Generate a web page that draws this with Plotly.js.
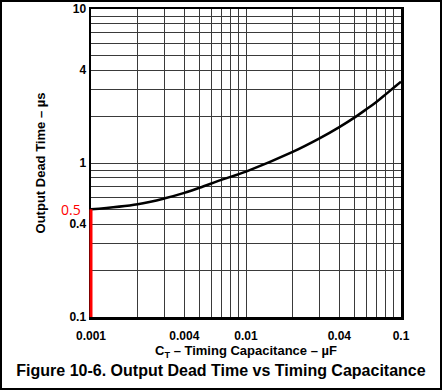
<!DOCTYPE html>
<html><head><meta charset="utf-8">
<script src="https://cdn.plot.ly/plotly-3.0.1.min.js"></script>
<style>html,body{margin:0;padding:0;background:#fff}#wrap{position:relative;width:442px;height:390px}#chart{width:442px;height:390px}#frame{position:absolute;left:0;top:0;width:442px;height:390px;box-sizing:border-box;border:2px solid #000;pointer-events:none}</style>
</head><body>
<div id="wrap"><div id="chart"></div><div id="frame"></div></div>
<script>
// Curve
const capacitance = [0.001,0.002,0.003,0.004,0.005,0.007,0.01,0.02,0.03,0.04,0.05,0.06,0.07,0.08,0.09,0.1];
const deadTime    = [0.5,0.54,0.59,0.64,0.69,0.78,0.88,1.18,1.45,1.71,1.97,2.24,2.51,2.8,3.09,3.37];
// Marked point
const markX = [0.001, 0.001];
const markY = [0.1, 0.5];
const markLabel = '0.5';
// Grid / tick labels
const xTicks = [0.001,0.004,0.01,0.04,0.1];
const xTickText = ['0.001','0.004','0.01','0.04','0.1'];
const xMinor = [0.002,0.003,0.005,0.006,0.007,0.008,0.009,0.02,0.03,0.05,0.06,0.07,0.08,0.09];
const yTicks = [0.1,0.4,1,4,10];
const yTickText = ['0.1','0.4','1','4','10'];
const yMinor = [0.2,0.3,0.5,0.6,0.7,0.8,0.9,2,3,5,6,7,8,9];

const xRange = [-3, -1];
const fam = '"Liberation Sans", Arial, sans-serif';
const grid = '#3a3a3a';
const toPaperX = v => (Math.log10(v) - xRange[0]) / (xRange[1] - xRange[0]);
const traces = [
  {x:capacitance, y:deadTime, mode:'lines', line:{color:'#000', width:2.5, shape:'spline', smoothing:1}, hoverinfo:'none'}
];
const layout = {
  width:442, height:390,
  margin:{l:91, r:41, t:9, b:73},
  paper_bgcolor:'#fff', plot_bgcolor:'#fff',
  showlegend:false,
  font:{family:fam, color:'#000'},
  title:{text:'<b>Figure 10-6. Output Dead Time vs Timing Capacitance</b>', x:0.5, xanchor:'center', y:1-370/390, yanchor:'middle', yref:'container', font:{family:fam, size:16, color:'#000'}},
  xaxis:{type:'log', range:xRange, tickmode:'array', tickvals:xTicks, ticktext:xTickText.map(t=>'<b>'+t+'</b>'),
    showgrid:true, gridcolor:grid, gridwidth:1, ticks:'', zeroline:false, ticklabelstandoff:6,
    minor:{tickmode:'array', tickvals:xMinor, showgrid:true, gridcolor:grid, gridwidth:1, ticks:''},
    showline:true, mirror:true, linecolor:'#000', linewidth:2.5,
    tickfont:{family:fam, size:12, color:'#000'}, tickangle:0,
    title:{text:'<b>C<sub>T</sub> – Timing Capacitance – µF</b>', standoff:3, font:{family:fam, size:13, color:'#000'}}},
  yaxis:{type:'log', range:[-1,1], tickmode:'array', tickvals:yTicks, ticktext:yTickText.map(t=>'<b>'+t+'</b>'),
    showgrid:true, gridcolor:grid, gridwidth:1, ticks:'', zeroline:false,
    minor:{tickmode:'array', tickvals:yMinor, showgrid:true, gridcolor:grid, gridwidth:1, ticks:''},
    showline:true, mirror:true, linecolor:'#000', linewidth:2.5,
    tickfont:{family:fam, size:12, color:'#000'},
    title:{text:'<b>Output Dead Time – µs</b>', standoff:21, font:{family:fam, size:13, color:'#000'}}},
  shapes:[{type:'line', xref:'paper', yref:'y', x0:toPaperX(markX[0]), x1:toPaperX(markX[1]), y0:markY[0], y1:markY[1], layer:'above', line:{color:'#ff0000', width:3}}],
  annotations:[{x:Math.log10(markX[1]), y:Math.log10(markY[1]), xref:'x', yref:'y', text:markLabel, showarrow:false, xanchor:'right', yanchor:'middle', xshift:-8, font:{family:'"Open Sans", "Liberation Sans", sans-serif', size:14, color:'#ff0000'}}]
};
Plotly.newPlot('chart', traces, layout, {staticPlot:true, displayModeBar:false});
</script>
</body></html>
